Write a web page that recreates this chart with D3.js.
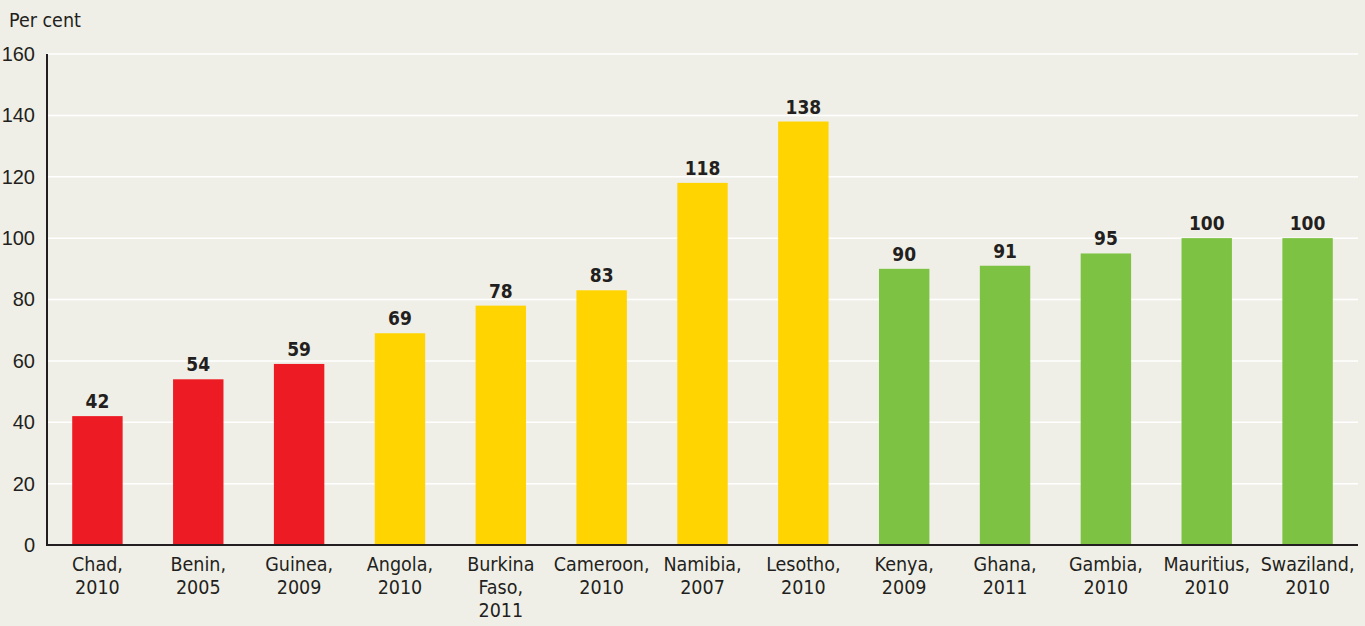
<!DOCTYPE html>
<html><head><meta charset="utf-8">
<script src="https://cdn.jsdelivr.net/npm/d3@7"></script>
<style>
html,body{margin:0;padding:0;background:#f0efe7;}
svg{display:block;font-family:"Liberation Sans Narrow","DejaVu Sans Condensed",sans-serif;}
</style></head><body>
<svg id="chart" width="1365" height="626"></svg>
<script>
const categories = [["Chad,","2010"],["Benin,","2005"],["Guinea,","2009"],["Angola,","2010"],["Burkina","Faso,","2011"],["Cameroon,","2010"],["Namibia,","2007"],["Lesotho,","2010"],["Kenya,","2009"],["Ghana,","2011"],["Gambia,","2010"],["Mauritius,","2010"],["Swaziland,","2010"]];
const values = [42,54,59,69,78,83,118,138,90,91,95,100,100];
const groups = ["red","red","red","yellow","yellow","yellow","yellow","yellow","green","green","green","green","green"];
const yTicks = [0,20,40,60,80,100,120,140,160];
const colors = {red:"#ed1c24", yellow:"#ffd400", green:"#7dc242"};

const svg = d3.select("#chart");
svg.append("rect").attr("width",1365).attr("height",626).attr("fill","#f0efe7");
const mLeft=47, mRight=1358, mTop=54, mBottom=545;
const x = d3.scaleBand().domain(d3.range(values.length)).range([mLeft,mRight]).paddingInner(0.5).paddingOuter(0.25);
const y = d3.scaleLinear().domain([0,160]).range([mBottom,mTop]);

// gridlines
svg.append("g").selectAll("line").data(yTicks.filter(d=>d>0)).join("line")
  .attr("x1",mLeft).attr("x2",mRight).attr("y1",d=>y(d)).attr("y2",d=>y(d))
  .attr("stroke","#ffffff").attr("stroke-width",1.5);

// bars
svg.append("g").selectAll("rect").data(values).join("rect")
  .attr("x",(d,i)=>x(i)).attr("width",x.bandwidth())
  .attr("y",d=>y(d)).attr("height",d=>mBottom-y(d))
  .attr("fill",(d,i)=>colors[groups[i]]);

// value labels
svg.append("g").selectAll("text").data(values).join("text")
  .attr("x",(d,i)=>x(i)+x.bandwidth()/2).attr("y",d=>y(d)-8)
  .attr("text-anchor","middle").attr("font-size",19).attr("font-weight","bold")
  .attr("fill","#231f20").text(d=>d);

// y axis
const yAxis = d3.axisLeft(y).tickValues(yTicks).tickSize(0).tickPadding(12);
const gy = svg.append("g").attr("transform",`translate(${mLeft},0)`).call(yAxis);
gy.select(".domain").remove();
gy.selectAll("text").attr("font-size",20).attr("fill","#231f20").attr("font-family","inherit");

// axis lines
svg.append("line").attr("x1",mLeft).attr("x2",mLeft).attr("y1",mTop).attr("y2",mBottom+1).attr("stroke","#231f20").attr("stroke-width",2);
svg.append("line").attr("x1",mLeft-1).attr("x2",mRight).attr("y1",mBottom).attr("y2",mBottom).attr("stroke","#231f20").attr("stroke-width",2);

// category labels
const cg = svg.append("g").selectAll("text").data(categories).join("text")
  .attr("x",(d,i)=>x(i)+x.bandwidth()/2).attr("y",571)
  .attr("text-anchor","middle").attr("font-size",19.5).attr("fill","#231f20");
cg.selectAll("tspan").data(d=>d).join("tspan")
  .attr("x",function(){return this.parentNode.getAttribute("x");})
  .attr("dy",(d,i)=>i===0?0:23).text(d=>d);

svg.append("text").attr("x",9).attr("y",27).attr("font-size",19.5).attr("fill","#231f20").text("Per cent");
</script>
</body></html>
